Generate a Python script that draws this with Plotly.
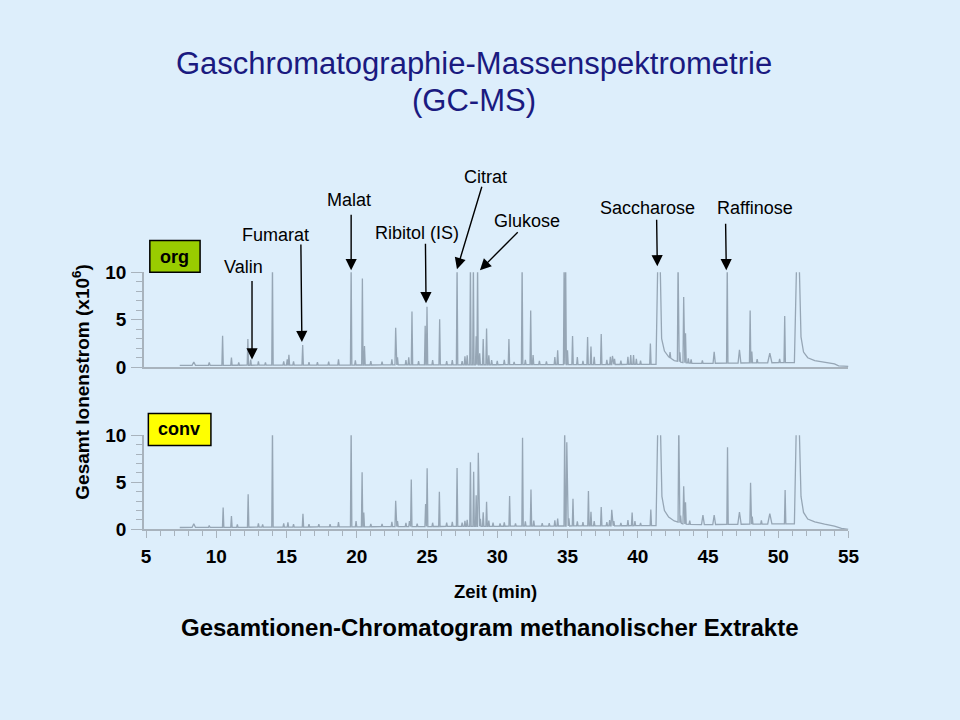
import numpy as np
import plotly.graph_objects as go

# ---------------- data ----------------
# "org" panel: peak retention times (min), heights (x10^6), half widths (min)
org_t = [8.4, 9.5, 10.45, 11.08, 11.6, 12.25, 12.45, 13.0, 13.5, 14.0, 14.8, 15.05, 15.17, 15.5,
         16.15, 16.6, 17.2, 18.0, 18.7, 19.6, 19.9, 20.4, 20.55, 21.0, 21.8, 22.5, 22.77, 22.9,
         23.5, 23.7, 23.93, 24.4, 24.87, 25.0, 25.4, 25.9, 26.4, 26.8, 27.14, 27.5, 27.7, 27.86,
         28.09, 28.3, 28.5, 28.6, 28.75, 29.0, 29.24, 29.4, 29.6, 30.0, 30.5, 30.83, 31.2, 31.77,
         32.0, 32.38, 32.55, 33.0, 33.5, 34.1, 34.3, 34.76, 34.87, 35.0, 35.36, 35.7, 36.1, 36.43,
         36.67, 36.9, 37.4, 37.8, 38.05, 38.2, 38.35, 38.8, 39.3, 39.5, 39.7, 39.9, 40.2, 40.9,
         42.3, 42.87, 43.0, 43.27, 43.4, 43.6, 43.8, 44.6, 45.44, 46.37, 47.24, 48.0, 48.12, 48.5,
         49.4, 50.1, 50.46]
org_h = [0.35, 0.3, 3.1, 0.8, 0.3, 2.75, 0.6, 0.4, 0.3, 10.6, 0.4, 0.6, 1.1, 0.4,
         2.1, 0.3, 0.3, 0.35, 0.6, 10.6, 0.5, 9.1, 2.0, 0.4, 0.35, 0.6, 3.9, 0.8,
         0.5, 0.8, 5.6, 0.4, 4.1, 6.1, 0.5, 4.8, 0.4, 0.5, 10.6, 0.4, 0.9, 1.0,
         10.6, 10.6, 3.0, 10.6, 1.2, 2.7, 3.8, 1.0, 0.5, 0.4, 0.5, 2.7, 0.3, 10.6,
         0.5, 5.7, 1.0, 0.4, 0.35, 0.8, 1.5, 10.6, 10.6, 1.5, 3.0, 0.8, 0.4, 2.9,
         1.9, 0.8, 3.2, 0.5, 0.8, 0.9, 0.6, 0.4, 0.8, 1.0, 1.0, 0.6, 0.4, 2.2,
         0.6, 10.6, 1.0, 6.9, 3.1, 0.5, 0.4, 0.3, 1.2, 10.6, 1.4, 5.5, 1.2, 0.4,
         1.0, 0.4, 4.9]
org_w = [0.12, 0.06, 0.05, 0.05, 0.05, 0.05, 0.05, 0.05, 0.05, 0.05, 0.05, 0.05, 0.05, 0.05,
         0.05, 0.05, 0.05, 0.05, 0.05, 0.05, 0.05, 0.05, 0.05, 0.05, 0.05, 0.05, 0.05, 0.05,
         0.05, 0.05, 0.05, 0.05, 0.05, 0.05, 0.05, 0.05, 0.05, 0.05, 0.05, 0.05, 0.05, 0.05,
         0.05, 0.05, 0.05, 0.05, 0.05, 0.05, 0.05, 0.05, 0.05, 0.05, 0.05, 0.05, 0.05, 0.05,
         0.05, 0.05, 0.05, 0.05, 0.05, 0.05, 0.05, 0.05, 0.05, 0.05, 0.05, 0.05, 0.05, 0.05,
         0.05, 0.05, 0.05, 0.05, 0.05, 0.05, 0.05, 0.05, 0.05, 0.05, 0.05, 0.05, 0.05, 0.05,
         0.05, 0.05, 0.05, 0.05, 0.05, 0.05, 0.05, 0.05, 0.08, 0.05, 0.1, 0.05, 0.05, 0.05,
         0.15, 0.05, 0.05]
# baseline / broad (tailing) peaks of the "org" trace: (time, level)
org_base_t = [7.4, 41.3, 41.42, 41.6, 41.7, 41.9, 42.2, 42.6, 43.2, 44.0, 51.15, 51.3, 51.5,
              51.62, 51.8, 52.1, 52.6, 53.3, 54.0, 54.3, 55.0]
org_base_y = [0.2, 0.3, 10.6, 10.6, 3.0, 1.7, 1.1, 0.7, 0.5, 0.4, 0.5, 10.6, 10.6,
              3.2, 1.6, 1.0, 0.7, 0.5, 0.35, 0.15, 0.1]

# "conv" panel
conv_t = [8.4, 9.5, 10.49, 11.08, 11.5, 12.27, 13.0, 13.3, 14.0, 14.8, 15.1, 15.5, 16.17, 16.6,
          17.3, 18.1, 18.7, 19.6, 19.95, 20.38, 20.5, 21.0, 21.8, 22.5, 22.77, 22.9, 23.5, 23.75,
          23.88, 24.3, 24.9, 25.01, 25.4, 25.88, 26.4, 26.8, 27.14, 27.5, 27.7, 27.86, 28.09, 28.32,
          28.5, 28.65, 28.8, 29.0, 29.24, 29.4, 29.7, 30.2, 30.5, 30.88, 31.3, 31.8, 32.0, 32.4,
          32.6, 33.2, 33.7, 34.1, 34.3, 34.8, 34.95, 35.1, 35.39, 35.7, 36.1, 36.49, 36.67, 36.9,
          37.4, 37.8, 38.0, 38.15, 38.3, 38.8, 39.3, 39.6, 39.8, 40.2, 40.93, 42.92, 43.05, 43.27,
          43.4, 43.7, 44.64, 45.44, 46.39, 47.24, 48.03, 48.15, 48.8, 49.4, 50.49]
conv_h = [0.4, 0.2, 2.1, 1.2, 0.3, 3.5, 0.4, 0.3, 10.6, 0.4, 0.5, 0.3, 1.4, 0.3,
          0.3, 0.3, 0.5, 10.6, 0.6, 5.8, 1.5, 0.3, 0.3, 0.5, 2.75, 0.6, 0.4, 0.6,
          5.0, 0.3, 2.4, 6.2, 0.4, 3.7, 0.4, 0.5, 6.2, 0.4, 0.6, 0.7, 6.8, 5.8,
          3.3, 7.8, 0.8, 1.5, 2.6, 0.6, 0.4, 0.3, 0.4, 3.2, 0.3, 9.4, 0.5, 3.9,
          0.6, 0.3, 0.3, 0.6, 0.8, 10.6, 8.9, 0.8, 2.9, 0.5, 0.4, 3.7, 1.5, 0.5,
          2.0, 0.4, 0.6, 1.7, 0.5, 0.3, 0.6, 1.4, 0.5, 0.3, 1.7, 10.6, 0.8, 4.0,
          2.3, 0.4, 1.0, 1.0, 8.2, 1.3, 4.4, 0.8, 0.4, 1.1, 3.6]
conv_w = [0.12, 0.06, 0.05, 0.05, 0.05, 0.05, 0.05, 0.05, 0.05, 0.05, 0.05, 0.05, 0.05, 0.05,
          0.05, 0.05, 0.05, 0.05, 0.05, 0.05, 0.05, 0.05, 0.05, 0.05, 0.05, 0.05, 0.05, 0.05,
          0.05, 0.05, 0.05, 0.05, 0.05, 0.05, 0.05, 0.05, 0.05, 0.05, 0.05, 0.05, 0.05, 0.05,
          0.05, 0.05, 0.05, 0.05, 0.05, 0.05, 0.05, 0.05, 0.05, 0.05, 0.05, 0.05, 0.05, 0.05,
          0.05, 0.05, 0.05, 0.05, 0.05, 0.05, 0.05, 0.05, 0.05, 0.05, 0.05, 0.05, 0.05, 0.05,
          0.05, 0.05, 0.05, 0.05, 0.05, 0.05, 0.05, 0.05, 0.05, 0.05, 0.05, 0.05, 0.05, 0.05,
          0.05, 0.05, 0.1, 0.1, 0.05, 0.12, 0.05, 0.05, 0.05, 0.15, 0.05]
conv_base_t = [7.4, 41.3, 41.42, 41.62, 41.72, 41.9, 42.2, 42.6, 43.2, 44.0, 51.15, 51.28, 51.5,
               51.62, 51.8, 52.1, 52.6, 53.3, 54.0, 54.5, 55.0]
conv_base_y = [0.2, 0.4, 10.6, 10.6, 3.5, 2.0, 1.3, 0.9, 0.6, 0.5, 0.6, 10.6, 10.6,
               3.5, 1.8, 1.1, 0.8, 0.55, 0.35, 0.1, 0.0]

# compounds marked in the "org" panel
compounds = ["Valin", "Fumarat", "Malat", "Ribitol (IS)", "Citrat", "Glukose", "Saccharose", "Raffinose"]

x_ticks = [5, 10, 15, 20, 25, 30, 35, 40, 45, 50, 55]
y_ticks = [0, 5, 10]

# ---------------- styling ----------------
BG = "#DDEEFB"
LINE = "#96A6B5"
AXC = "#A8B3BD"
SANS = "Liberation Sans, Arial, sans-serif"
W, H = 960, 720


def px(x):
    return x / W


def py(y):
    return 1 - y / H


def bold(size):
    return dict(family=SANS, size=size, color="black", weight="bold")


def profile(pt, ph, pw, bt, by):
    bt = np.asarray(bt, float)
    by = np.asarray(by, float)
    xs = list(bt)
    ys = list(by)
    for t, h, w in zip(pt, ph, pw):
        f0 = float(np.interp(t - w, bt, by))
        f1 = float(np.interp(t + w, bt, by))
        fm = float(np.interp(t, bt, by))
        xs += [t - w, t, t + w]
        ys += [f0, fm + h, f1]
    order = np.argsort(xs, kind="stable")
    return np.asarray(xs)[order], np.asarray(ys)[order]


ox, oy = profile(org_t, org_h, org_w, org_base_t, org_base_y)
cx, cy = profile(conv_t, conv_h, conv_w, conv_base_t, conv_base_y)

fig = go.Figure()
fig.add_trace(go.Scatter(x=ox, y=oy, mode="lines", line=dict(color=LINE, width=1.3),
                         xaxis="x", yaxis="y", hoverinfo="skip"))
fig.add_trace(go.Scatter(x=cx, y=cy, mode="lines", line=dict(color=LINE, width=1.3),
                         xaxis="x2", yaxis="y2", hoverinfo="skip"))

xdom = [px(143), px(858)]
xr = [4.85, 55.0]
yax_common = dict(range=[0, 10], tickvals=y_ticks, ticks="outside", ticklen=11, tickwidth=1,
                  tickcolor=AXC, showline=True, linecolor=AXC, linewidth=1.5, showgrid=False,
                  zeroline=False, tickfont=bold(19),
                  minor=dict(dtick=1, ticks="outside", ticklen=6, tickcolor=AXC, showgrid=False),
                  ticklabelstandoff=1)

fig.update_layout(
    width=W, height=H, margin=dict(l=0, r=0, t=0, b=0),
    paper_bgcolor=BG, plot_bgcolor=BG, showlegend=False,
    xaxis=dict(domain=xdom, range=xr, anchor="y", showline=True, linecolor=AXC, linewidth=1.5,
               ticks="", showticklabels=False, showgrid=False, zeroline=False),
    yaxis=dict(domain=[py(368), py(270)], anchor="x", **yax_common),
    xaxis2=dict(domain=xdom, range=xr, anchor="y2", showline=True, linecolor=AXC, linewidth=1.5,
                tickvals=x_ticks, ticks="outside", ticklen=7, tickcolor=AXC, showgrid=False,
                zeroline=False, tickfont=bold(19),
                minor=dict(dtick=1, ticks="outside", ticklen=5, tickcolor=AXC, showgrid=False),
                ticklabelstandoff=2),
    yaxis2=dict(domain=[py(535), py(438)], anchor="x2", **yax_common),
)

ann = []
# title
ann.append(dict(x=px(478), y=py(55), text="Gaschromatographie-Massenspektrometrie",
                font=dict(family=SANS, size=31, color="#1A1A80")))
ann.append(dict(x=px(478), y=py(93), text="(GC-MS)", font=dict(family=SANS, size=31, color="#1A1A80")))
# axis titles
ann.append(dict(x=px(79), y=py(383), text="Gesamt Ionenstrom (x10<sup>6</sup>)", textangle=-90,
                font=bold(19)))
ann.append(dict(x=px(500), y=py(599), text="Zeit (min)", font=bold(18.5)))
ann.append(dict(x=px(494), y=py(636), text="Gesamtionen-Chromatogram methanolischer Extrakte",
                font=bold(24)))

# compound labels and arrows (positions in pixels)
label_pos = [(244.5, 265), (276.7, 232), (351.5, 196), (420, 230), (489.7, 172), (531.5, 217),
             (654, 204), (763.3, 204)]
arrows = [((252.7, 280), (252.7, 360)), ((302.3, 243), (303.3, 342)), ((353.3, 211), (353.3, 268)),
          ((428.7, 241), (429.3, 302)), ((486, 183), (460.7, 267)), ((523.3, 228.5), (484, 268)),
          ((663.3, 216), (664, 264)), ((733.3, 220), (734, 268))]
for name, (lx, ly) in zip(compounds, label_pos):
    ann.append(dict(x=px(lx), y=py(ly), text=name, font=dict(family=SANS, size=18, color="black")))
for (tx, ty), (hx, hy) in arrows:
    ann.append(dict(x=px(hx), y=py(hy), text="", showarrow=True, arrowhead=2, arrowsize=1.6,
                    arrowwidth=1.4, arrowcolor="black", ax=tx - hx, ay=ty - hy, standoff=0,
                    startstandoff=0))

# panel boxes
ann.append(dict(x=px(174.5), y=py(254), text="org", font=bold(18)))
ann.append(dict(x=px(179), y=py(432), text="conv", font=bold(18)))

for a in ann:
    a.setdefault("xref", "paper")
    a.setdefault("yref", "paper")
    a.setdefault("showarrow", False)
    a.setdefault("xanchor", "center")
    a.setdefault("yanchor", "middle")
fig.update_layout(annotations=ann)

fig.update_layout(shapes=[
    dict(type="rect", xref="paper", yref="paper", x0=px(149), x1=px(200), y0=py(270), y1=py(237.5),
         fillcolor="#99CC00", line=dict(color="black", width=1.5), layer="below"),
    dict(type="rect", xref="paper", yref="paper", x0=px(147.5), x1=px(211), y0=py(448.5), y1=py(415.5),
         fillcolor="#FFFF00", line=dict(color="black", width=1.5), layer="below"),
])

fig.write_html("out.html")
